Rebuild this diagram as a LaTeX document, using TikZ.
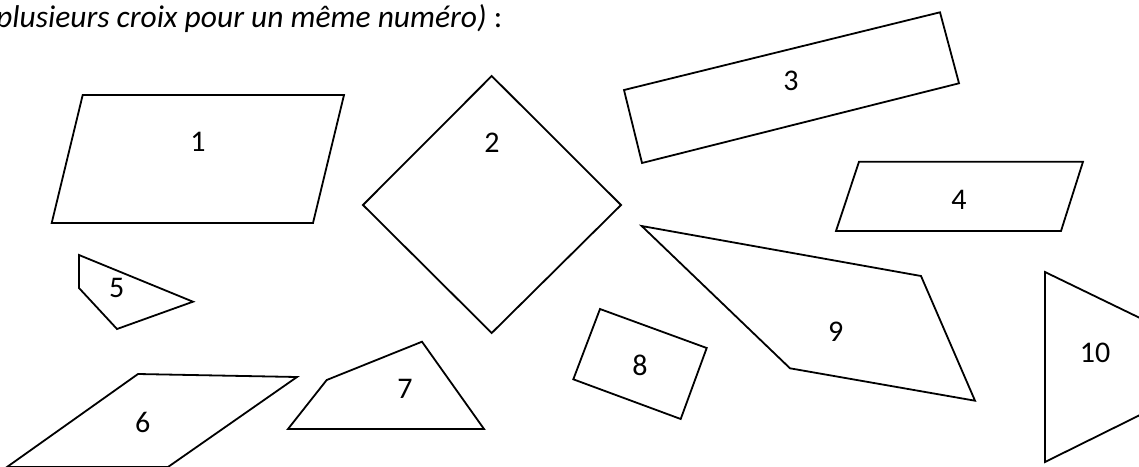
\documentclass[tikz,border=0pt]{standalone}
\usepackage{fontspec}
\setmainfont{Carlito}
\begin{document}
\begin{tikzpicture}[x=1pt,y=-1pt,
  fig/.style={draw=black,line width=1.8pt,line join=miter},
  lbl/.style={font=\fontsize{30}{36}\selectfont,inner sep=0pt}]
\useasboundingbox (0,0) rectangle (1139,466);
\clip (0,0) rectangle (1139,466);
\fill[white] (0,0) rectangle (1139,466);
% title
\node[anchor=base west,inner sep=0pt,font=\fontsize{31.5}{36}\selectfont] (title) at (-4,27) {\textit{plusieurs croix pour un même numéro)} :};
% 1
\draw[fig] (82.7,95) -- (344,95) -- (313,223) -- (51.7,223) -- cycle;
\node[lbl] (n1) at (198,142) {1};
% 2
\draw[fig] (491.7,76) -- (621,205) -- (491.7,333) -- (363,205) -- cycle;
\node[lbl] (n2) at (492,143) {2};
% 3
\draw[fig] (624,90) -- (940,12.3) -- (959,83.3) -- (642,163) -- cycle;
\node[lbl] (n3) at (791,81) {3};
% 4
\draw[fig] (859,161.7) -- (1083,161.7) -- (1061,231) -- (836,231) -- cycle;
\node[lbl] (n4) at (959,200) {4};
% 5
\draw[fig] (79,255) -- (193,301.7) -- (117,329) -- (79,288) -- cycle;
\node[lbl] (n5) at (116.7,288) {5};
% 6
\draw[fig] (138,374) -- (297,377) -- (168,467) -- (7,467) -- cycle;
\node[lbl] (n6) at (142.7,422.7) {6};
% 7
\draw[fig] (422,341.7) -- (484,429) -- (288,429) -- (326.7,380) -- cycle;
\node[lbl] (n7) at (405,389) {7};
% 8
\draw[fig] (600,309) -- (706.7,348) -- (680.7,419) -- (573.3,379.3) -- cycle;
\node[lbl] (n8) at (640,365) {8};
% 9
\draw[fig] (641.7,226) -- (921,276) -- (975,400.7) -- (790,368.3) -- cycle;
\node[lbl] (n9) at (835.7,332) {9};
% 10
\draw[fig] (1045,272) -- (1239,366) -- (1045,462) -- cycle;
\node[lbl] (n10) at (1095,353) {10};
\end{tikzpicture}
\end{document}
